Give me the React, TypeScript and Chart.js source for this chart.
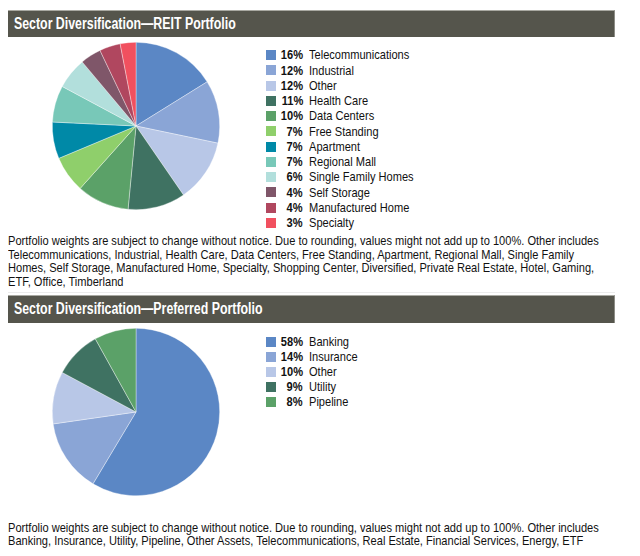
import React, { useEffect, useRef } from "react";
import { Chart, registerables } from "chart.js";

Chart.register(...registerables);

const reitLabels = [
  "Telecommunications",
  "Industrial",
  "Other",
  "Health Care",
  "Data Centers",
  "Free Standing",
  "Apartment",
  "Regional Mall",
  "Single Family Homes",
  "Self Storage",
  "Manufactured Home",
  "Specialty",
];
const reitValues = [16, 12, 12, 11, 10, 7, 7, 7, 6, 4, 4, 3];
const reitColors = [
  "#5b87c5",
  "#8aa5d6",
  "#b8c7e7",
  "#3f7262",
  "#5ba168",
  "#8fcf6b",
  "#0089a7",
  "#78c8b8",
  "#b2dfdc",
  "#7f5669",
  "#b0475f",
  "#f1505f",
];

const prefLabels = ["Banking", "Insurance", "Other", "Utility", "Pipeline"];
const prefValues = [58, 14, 10, 9, 8];
const prefColors = ["#5b87c5", "#8aa5d6", "#b8c7e7", "#3f7262", "#5ba168"];

const reitNoteLines = [
  "Portfolio weights are subject to change without notice. Due to rounding, values might not add up to 100%. Other includes",
  "Telecommunications, Industrial, Health Care, Data Centers, Free Standing, Apartment, Regional Mall, Single Family",
  "Homes, Self Storage, Manufactured Home, Specialty, Shopping Center, Diversified, Private Real Estate, Hotel, Gaming,",
  "ETF, Office, Timberland",
];
const prefNoteLines = [
  "Portfolio weights are subject to change without notice. Due to rounding, values might not add up to 100%. Other includes",
  "Banking, Insurance, Utility, Pipeline, Other Assets, Telecommunications, Real Estate, Financial Services, Energy, ETF",
];

const FONT = '"Liberation Sans", Arial, sans-serif';
const SQ = 0.82;

function Narrow({ children, origin = "left", scale = SQ }: any) {
  return (
    <span
      style={{
        display: "inline-block",
        transform: `scaleX(${scale})`,
        transformOrigin: origin,
        whiteSpace: "nowrap",
      }}
    >
      {children}
    </span>
  );
}

function Pie({ labels, values, colors, left, top }: any) {
  const ref = useRef<HTMLCanvasElement>(null);
  useEffect(() => {
    if (!ref.current) return;
    const chart = new Chart(ref.current, {
      type: "pie",
      data: {
        labels,
        datasets: [
          {
            data: values,
            backgroundColor: colors,
            borderColor: "rgba(255,255,255,0.6)",
            borderWidth: 0.6,
          },
        ],
      },
      options: {
        responsive: false,
        animation: false,
        layout: { padding: 6 },
        plugins: { legend: { display: false }, tooltip: { enabled: false } },
      },
    });
    return () => chart.destroy();
  }, []);
  return (
    <canvas
      ref={ref}
      width={180}
      height={180}
      style={{ position: "absolute", left, top, width: 180, height: 180 }}
    />
  );
}

function Header({ text, top }: any) {
  return (
    <div
      style={{
        position: "absolute",
        left: 8,
        top,
        width: 607,
        height: 27.5,
        boxSizing: "border-box",
        background: "#55554c",
        borderTop: "1px solid #a9a9a2",
        borderRight: "1px solid #8d8d86",
        color: "#ffffff",
        fontFamily: FONT,
        fontWeight: "bold",
        fontSize: 16,
        lineHeight: "25px",
        paddingLeft: 6,
        whiteSpace: "nowrap",
      }}
    >
      <Narrow scale={0.772}>{text}</Narrow>
    </div>
  );
}

function Legend({ labels, values, colors, top, step }: any) {
  return (
    <div style={{ position: "absolute", left: 266, top, fontFamily: FONT, fontSize: 13.5, color: "#111" }}>
      {labels.map((l: string, i: number) => (
        <div
          key={l}
          style={{ position: "relative", height: step, lineHeight: step + "px", whiteSpace: "nowrap" }}
        >
          <span
            style={{
              position: "absolute",
              left: 0,
              top: (step - 10) / 2,
              width: 10,
              height: 10,
              background: colors[i],
            }}
          />
          <span
            style={{
              position: "absolute",
              left: 0,
              width: 37,
              textAlign: "right",
              fontWeight: "bold",
            }}
          >
            <Narrow origin="right">{values[i]}%</Narrow>
          </span>
          <span style={{ position: "absolute", left: 43 }}>
            <Narrow>{l}</Narrow>
          </span>
        </div>
      ))}
    </div>
  );
}

function Note({ lines, top }: any) {
  return (
    <div
      style={{
        position: "absolute",
        left: 8,
        top,
        fontFamily: FONT,
        fontSize: 13.5,
        lineHeight: "13.4px",
        color: "#111",
      }}
    >
      {lines.map((t: string, i: number) => (
        <div key={i} style={{ height: 13.4, whiteSpace: "nowrap" }}>
          <Narrow>{t}</Narrow>
        </div>
      ))}
    </div>
  );
}

export default function App() {
  return (
    <div style={{ position: "absolute", left: 0, top: 0, width: 640, height: 556, background: "#fff", overflow: "hidden" }}>
      <Header text="Sector Diversification—REIT Portfolio" top={9.5} />
      <Pie labels={reitLabels} values={reitValues} colors={reitColors} left={46} top={36} />
      <Legend labels={reitLabels} values={reitValues} colors={reitColors} top={47.4} step={15.25} />
      <Note lines={reitNoteLines} top={234.4} />
      <div style={{ position: "absolute", left: 8, top: 292, width: 607, height: 1, background: "#ececec" }} />
      <Header text="Sector Diversification—Preferred Portfolio" top={295.3} />
      <Pie labels={prefLabels} values={prefValues} colors={prefColors} left={46} top={321.5} />
      <Legend labels={prefLabels} values={prefValues} colors={prefColors} top={334.2} step={15} />
      <Note lines={prefNoteLines} top={520.7} />
    </div>
  );
}
